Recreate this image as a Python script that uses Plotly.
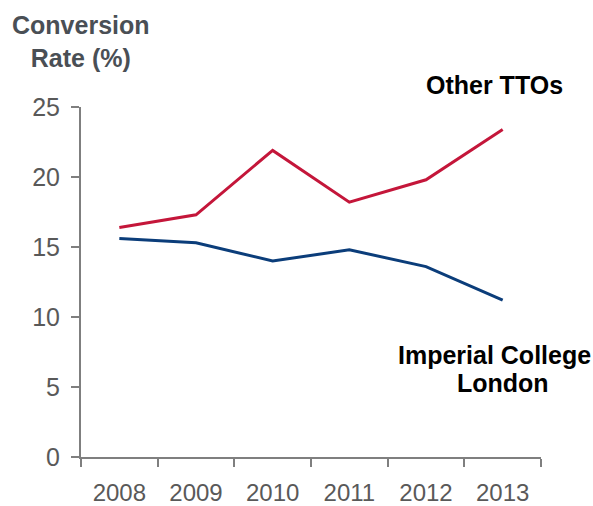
import plotly.graph_objects as go

# donnees
years = ["2008", "2009", "2010", "2011", "2012", "2013"]
other_ttos = [16.4, 17.3, 21.9, 18.2, 19.8, 23.4]
imperial = [15.6, 15.3, 14.0, 14.8, 13.6, 11.2]

FONT = "Arial, Liberation Sans, sans-serif"
RED = "#C4163A"
BLUE = "#0B3D7A"
AXIS = "#7F7F7F"

fig = go.Figure()
fig.add_trace(go.Scatter(x=years, y=other_ttos, mode="lines",
                         line=dict(color=RED, width=3), name="Other TTOs"))
fig.add_trace(go.Scatter(x=years, y=imperial, mode="lines",
                         line=dict(color=BLUE, width=3), name="Imperial College London"))

fig.update_layout(
    width=593,
    height=506,
    margin=dict(l=81, r=52, t=107, b=49),
    plot_bgcolor="white",
    paper_bgcolor="white",
    showlegend=False,
    font=dict(family=FONT, color="#595959", size=24),
    xaxis=dict(
        type="category",
        range=[-0.5, 5.5],
        tickson="boundaries",
        ticks="outside",
        ticklen=8,
        tickwidth=2,
        tickcolor=AXIS,
        showline=True,
        linecolor=AXIS,
        linewidth=2,
        showgrid=False,
        zeroline=False,
        automargin=False,
        ticklabelstandoff=13,
        tickfont=dict(size=24, color="#595959"),
    ),
    yaxis=dict(
        range=[0, 25],
        tickvals=[0, 5, 10, 15, 20, 25],
        ticks="outside",
        ticklen=8,
        tickwidth=2,
        tickcolor=AXIS,
        showline=True,
        linecolor=AXIS,
        linewidth=2,
        showgrid=False,
        zeroline=False,
        automargin=False,
        ticklabelstandoff=6,
        tickfont=dict(size=25, color="#595959"),
    ),
)

# titre de l'axe y et etiquettes des series
fig.add_annotation(x=0, y=1.187, xref="paper", yref="paper", showarrow=False,
                   text="<b>Conversion<br>Rate (%)</b>", align="center",
                   xanchor="center", yanchor="middle",
                   font=dict(family=FONT, size=25, color="#4A4F55"))
fig.add_annotation(x=0.898, y=1.063, xref="paper", yref="paper", showarrow=False,
                   text="<b>Other TTOs</b>", xanchor="center", yanchor="middle",
                   font=dict(family=FONT, size=25, color="black"))
fig.add_annotation(x=0.898, y=0.291, xref="paper", yref="paper", showarrow=False,
                   text="<b>Imperial College</b>", xanchor="center", yanchor="middle",
                   font=dict(family=FONT, size=25, color="black"))
fig.add_annotation(x=0.918, y=0.211, xref="paper", yref="paper", showarrow=False,
                   text="<b>London</b>", xanchor="center", yanchor="middle",
                   font=dict(family=FONT, size=25, color="black"))

# pas de marge sur le body pour que la figure remplisse exactement la fenetre
fig.write_html("out.html", config={"displayModeBar": False},
               post_script="document.body.style.margin='0';")
